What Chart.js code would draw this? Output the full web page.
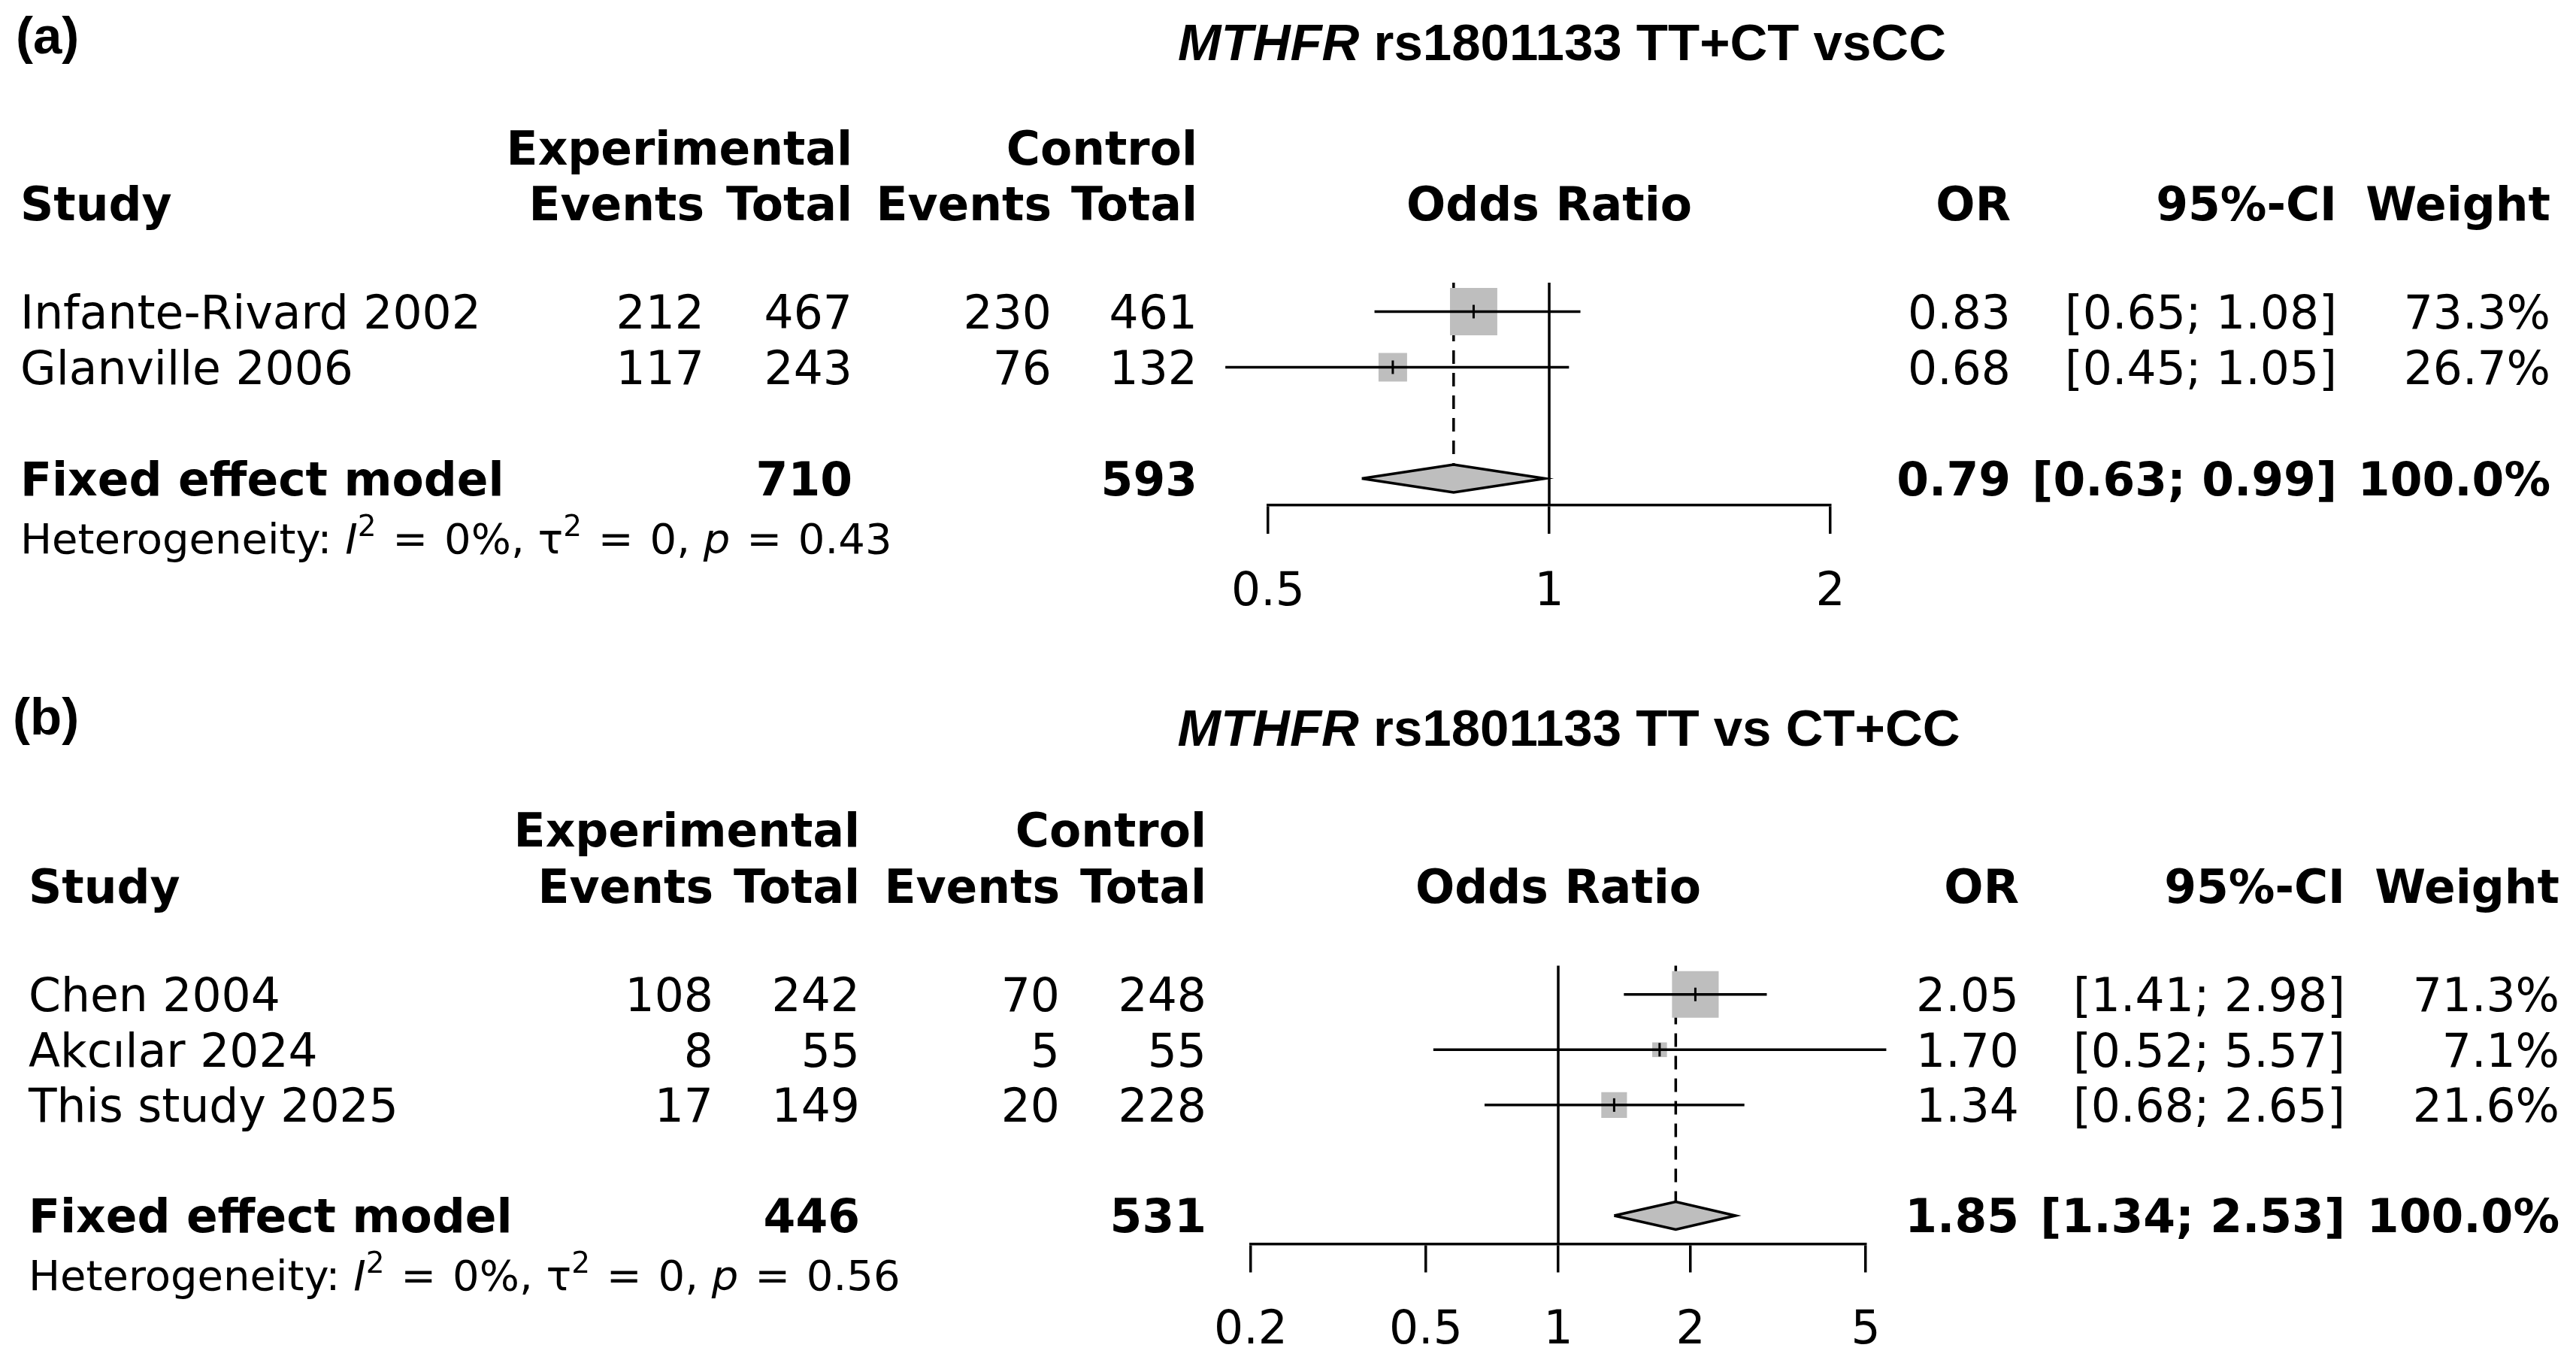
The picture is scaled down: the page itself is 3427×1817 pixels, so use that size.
<!DOCTYPE html>
<html><head><meta charset="utf-8">
<script src="https://cdn.jsdelivr.net/npm/chart.js@4.4.1/dist/chart.umd.min.js"></script>
<style>
html,body{margin:0;padding:0;background:#fff;width:3427px;height:1817px;overflow:hidden}
canvas{position:absolute;left:0}
</style></head>
<body>
<canvas id="ca" width="3427" height="880" style="top:0px;width:3427px;height:880px"></canvas>
<canvas id="cb" width="3427" height="937" style="top:880px;width:3427px;height:937px"></canvas>
<script>
// ---------------- DATA: panel (a) ----------------
const titleA = ["MTHFR", " rs1801133 TT+CT vsCC"];
const studiesA = ["Infante-Rivard 2002", "Glanville 2006"];
const expEventsA = [212, 117];
const expTotalA = [467, 243];
const ctrlEventsA = [230, 76];
const ctrlTotalA = [461, 132];
const orA = [0.83, 0.68];
const ciLowA = [0.65, 0.45];
const ciHighA = [1.08, 1.05];
const weightA = [73.3, 26.7];
const pooledA = [0.79, 0.63, 0.99];      // OR, lower, upper
const pooledTotalsA = [710, 593];
const hetA = ["0%", "0", "0.43"];        // I^2, tau^2, p
const ticksA = [0.5, 1, 2];

// ---------------- DATA: panel (b) ----------------
const titleB = ["MTHFR", " rs1801133 TT vs CT+CC"];
const studiesB = ["Chen 2004", "Akcılar 2024", "This study 2025"];
const expEventsB = [108, 8, 17];
const expTotalB = [242, 55, 149];
const ctrlEventsB = [70, 5, 20];
const ctrlTotalB = [248, 55, 228];
const orB = [2.05, 1.70, 1.34];
const ciLowB = [1.41, 0.52, 0.68];
const ciHighB = [2.98, 5.57, 2.65];
const weightB = [71.3, 7.1, 21.6];
const pooledB = [1.85, 1.34, 2.53];
const pooledTotalsB = [446, 531];
const hetB = ["0%", "0", "0.56"];
const ticksB = [0.2, 0.5, 1, 2, 5];

// ---------------- LAYOUT (positions only) ----------------
const W = 3427;
const layoutA = {
  tag: "(a)", canvasH: 880, plotL: 1687, plotR: 2435, plotT: 376, axisY: 672,
  yMin: 0.48, yMax: 4.48, rowExp: -1.95, rowStudy: -0.95, rowFixed: 4, rowHet: 5.07, dh: 0.25,
  colStudy: 27, colEE: 937, colET: 1134, colCE: 1399, colCT: 1593,
  colOR: 2675, colCI: 3109, colW: 3393, titleX: 2078, titleY: 55, tagX: 21, tagY: 46
};
const layoutB = {
  tag: "(b)", canvasH: 937, plotL: 1664, plotR: 2482, plotT: 404.5, axisY: 774.5,
  yMin: 0.48, yMax: 5.51, rowExp: -1.98, rowStudy: -0.96, rowFixed: 5, rowHet: 6.07, dh: 0.25,
  colStudy: 38, colEE: 949, colET: 1144, colCE: 1410, colCT: 1605,
  colOR: 2686, colCI: 3120, colW: 3405, titleX: 2087, titleY: 87, tagX: 17, tagY: 72
};

const FS = 61.5, HS = 56, TS = 69;
const FAM = "'DejaVu Sans'";

function drawPieces(ctx, pieces, x, yBase, align) {
  let total = 0;
  pieces.forEach(p => { ctx.font = p.f; p.w = ctx.measureText(p.t).width + (p.gap || 0) * 2; total += p.w; });
  let cx = align === 'right' ? x - total : (align === 'center' ? x - total / 2 : x);
  ctx.textAlign = 'left';
  ctx.textBaseline = 'alphabetic';
  pieces.forEach(p => { ctx.font = p.f; ctx.fillText(p.t, cx + (p.gap || 0), yBase + (p.dy || 0)); cx += p.w; });
}
function txt(ctx, s, x, yc, align, bold) {
  ctx.font = (bold ? 'bold ' : '') + FS + 'px ' + FAM;
  ctx.textAlign = align; ctx.textBaseline = 'alphabetic'; ctx.fillStyle = '#000';
  ctx.fillText(s, x, yc + 0.3645 * FS);
}

function makePanel(id, L, D) {
  const rows = D.studies.map((_, i) => i + 1);
  const ds = [];
  ds.push({ type: 'line', data: [{x: 1, y: L.yMin}, {x: 1, y: L.yMax}], borderColor: '#000', borderWidth: 3.5, pointRadius: 0, order: 60, clip: false });
  ds.push({ type: 'line', data: [{x: D.pooled[0], y: L.yMin}, {x: D.pooled[0], y: L.rowFixed - L.dh}], borderColor: '#000', borderWidth: 3.5, borderDash: [18, 12], pointRadius: 0, order: 50, clip: false });
  ds.push({ type: 'scatter', data: D.or.map((v, i) => ({x: v, y: rows[i]})), pointStyle: 'rect',
            pointRadius: D.weight.map(w => 7.35 * Math.sqrt(w) / Math.SQRT2), pointBackgroundColor: '#BEBEBE',
            pointBorderWidth: 0, order: 40, clip: false });
  D.or.forEach((v, i) => ds.push({ type: 'line', data: [{x: D.low[i], y: rows[i]}, {x: D.high[i], y: rows[i]}],
            borderColor: '#000', borderWidth: 3.5, pointRadius: 0, order: 30, clip: false }));
  ds.push({ type: 'scatter', data: D.or.map((v, i) => ({x: v, y: rows[i]})), pointStyle: 'line', pointRotation: 90,
            pointRadius: 9, pointBorderColor: '#000', pointBorderWidth: 3, order: 20, clip: false });
  const r = L.rowFixed, [est, lo, hi] = D.pooled;
  ds.push({ type: 'line', data: [{x: lo, y: r}, {x: est, y: r - L.dh}, {x: hi, y: r}, {x: est, y: r + L.dh}, {x: lo, y: r}],
            borderColor: '#000', borderWidth: 3.5, backgroundColor: '#BEBEBE', fill: 'shape', borderJoinStyle: 'miter',
            pointRadius: 0, order: 10, clip: false });

  const textPlugin = {
    id: 'forestText' + id,
    afterDraw(chart) {
      const ctx = chart.ctx; const ys = chart.scales.y;
      const Y = v => ys.getPixelForValue(v);
      ctx.save(); ctx.fillStyle = '#000';
      // tag and title
      drawPieces(ctx, [{t: L.tag, f: 'bold ' + TS + "px 'Liberation Sans'"}], L.tagX, L.tagY + 0.358 * TS, 'left');
      drawPieces(ctx, [{t: D.title[0], f: 'italic bold ' + TS + "px 'Liberation Sans'"},
                       {t: D.title[1], f: 'bold ' + TS + "px 'Liberation Sans'"}], L.titleX, L.titleY + 0.358 * TS, 'center');
      // headers
      const yE = Y(L.rowExp), yS = Y(L.rowStudy);
      txt(ctx, 'Experimental', L.colET, yE, 'right', true);
      txt(ctx, 'Control', L.colCT, yE, 'right', true);
      txt(ctx, 'Study', L.colStudy, yS, 'left', true);
      txt(ctx, 'Events', L.colEE, yS, 'right', true);
      txt(ctx, 'Total', L.colET, yS, 'right', true);
      txt(ctx, 'Events', L.colCE, yS, 'right', true);
      txt(ctx, 'Total', L.colCT, yS, 'right', true);
      txt(ctx, 'Odds Ratio', (chart.chartArea.left + chart.chartArea.right) / 2, yS, 'center', true);
      txt(ctx, 'OR', L.colOR, yS, 'right', true);
      txt(ctx, '95%-CI', L.colCI, yS, 'right', true);
      txt(ctx, 'Weight', L.colW, yS, 'right', true);
      // study rows
      D.studies.forEach((s, i) => {
        const y = Y(rows[i]);
        txt(ctx, s, L.colStudy, y, 'left', false);
        txt(ctx, String(D.ee[i]), L.colEE, y, 'right', false);
        txt(ctx, String(D.et[i]), L.colET, y, 'right', false);
        txt(ctx, String(D.ce[i]), L.colCE, y, 'right', false);
        txt(ctx, String(D.ct[i]), L.colCT, y, 'right', false);
        txt(ctx, D.or[i].toFixed(2), L.colOR, y, 'right', false);
        txt(ctx, '[' + D.low[i].toFixed(2) + '; ' + D.high[i].toFixed(2) + ']', L.colCI, y, 'right', false);
        txt(ctx, D.weight[i].toFixed(1) + '%', L.colW, y, 'right', false);
      });
      // pooled row
      const yF = Y(L.rowFixed);
      txt(ctx, 'Fixed effect model', L.colStudy, yF, 'left', true);
      txt(ctx, String(D.totals[0]), L.colET, yF, 'right', true);
      txt(ctx, String(D.totals[1]), L.colCT, yF, 'right', true);
      txt(ctx, est.toFixed(2), L.colOR, yF, 'right', true);
      txt(ctx, '[' + lo.toFixed(2) + '; ' + hi.toFixed(2) + ']', L.colCI, yF, 'right', true);
      txt(ctx, '100.0%', L.colW, yF, 'right', true);
      // heterogeneity
      const n = HS + 'px ' + FAM, it = 'italic ' + HS + 'px ' + FAM, sup = Math.round(HS * 0.7) + 'px ' + FAM;
      const supDy = -0.42 * HS;
      drawPieces(ctx, [
        {t: 'Heterogeneity: ', f: n}, {t: 'I', f: it}, {t: '2', f: sup, dy: supDy},
        {t: ' = ', f: n, gap: 4}, {t: D.het[0] + ', ', f: n}, {t: 'τ', f: n}, {t: '2', f: sup, dy: supDy},
        {t: ' = ', f: n, gap: 4}, {t: D.het[1] + ', ', f: n}, {t: 'p', f: it},
        {t: ' = ', f: n, gap: 4}, {t: D.het[2], f: n}
      ], L.colStudy, Y(L.rowHet) + 0.3645 * HS, 'left');
      ctx.restore();
    }
  };

  return new Chart(document.getElementById(id), {
    type: 'line',
    data: { datasets: ds },
    plugins: [textPlugin],
    options: {
      responsive: false, animation: false, events: [],
      layout: { padding: { left: L.plotL, right: W - L.plotR, top: L.plotT, bottom: L.canvasH - L.axisY - 150 } },
      plugins: { legend: { display: false }, tooltip: { enabled: false } },
      scales: {
        x: {
          type: 'logarithmic', min: D.ticks[0], max: D.ticks[D.ticks.length - 1],
          afterBuildTicks: s => { s.ticks = D.ticks.map(v => ({ value: v })); },
          afterFit: s => { s.height = 150; },
          ticks: { callback: v => String(v), font: { family: 'DejaVu Sans', size: FS }, color: '#000',
                   padding: 42, autoSkip: false, maxRotation: 0, minRotation: 0 },
          grid: { drawOnChartArea: false, drawTicks: true, tickLength: 38, color: '#000', lineWidth: 3.5 },
          border: { display: true, color: '#000', width: 3.5 }
        },
        y: { type: 'linear', reverse: true, min: L.yMin, max: L.yMax, display: false }
      }
    }
  });
}

makePanel('ca', layoutA, { title: titleA, studies: studiesA, ee: expEventsA, et: expTotalA, ce: ctrlEventsA, ct: ctrlTotalA,
  or: orA, low: ciLowA, high: ciHighA, weight: weightA, pooled: pooledA, totals: pooledTotalsA, het: hetA, ticks: ticksA });
makePanel('cb', layoutB, { title: titleB, studies: studiesB, ee: expEventsB, et: expTotalB, ce: ctrlEventsB, ct: ctrlTotalB,
  or: orB, low: ciLowB, high: ciHighB, weight: weightB, pooled: pooledB, totals: pooledTotalsB, het: hetB, ticks: ticksB });
</script>
</body></html>
